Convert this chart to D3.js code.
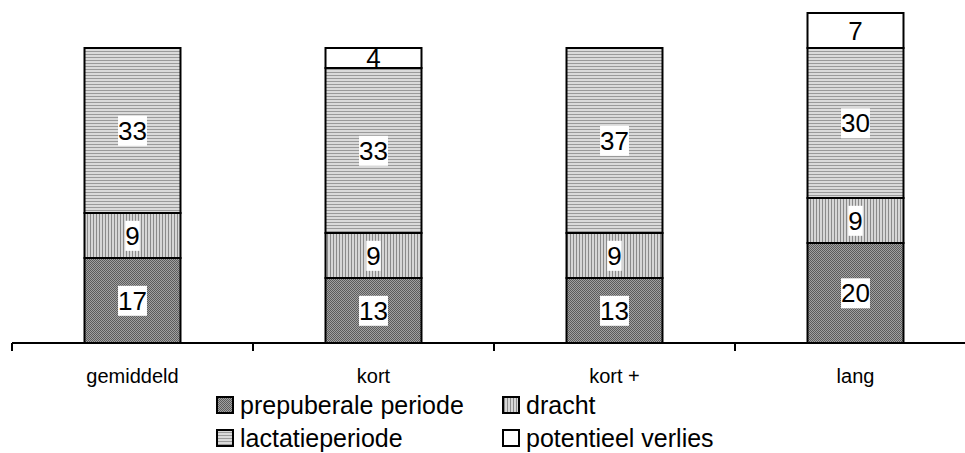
<!DOCTYPE html>
<html>
<head>
<meta charset="utf-8">
<script src="https://cdn.jsdelivr.net/npm/d3@7/dist/d3.min.js"></script>
<style>
  html, body { margin: 0; padding: 0; background: #fff; }
  svg { display: block; }
  text { font-family: "Liberation Sans", Arial, sans-serif; fill: #000; }
</style>
</head>
<body>
<svg id="chart" width="965" height="453"></svg>
<script>
// ---- data ----
const categories = ["gemiddeld", "kort", "kort +", "lang"];
const seriesNames = ["prepuberale periode", "dracht", "lactatieperiode", "potentieel verlies"];
const prepuberaal = [17, 13, 13, 20];
const drachtVals = [9, 9, 9, 9];
const lactatie = [33, 33, 37, 30];
const verlies = [0, 4, 0, 7];
const yMax = 66;

const seriesValues = [prepuberaal, drachtVals, lactatie, verlies];
const table = categories.map((c, i) => {
  const row = { cat: c };
  seriesNames.forEach((s, k) => row[s] = seriesValues[k][i]);
  return row;
});

const svg = d3.select("#chart");
const defs = svg.append("defs");

// patterns
function checker(id) {
  const p = defs.append("pattern").attr("id", id).attr("patternUnits", "userSpaceOnUse")
    .attr("width", 2).attr("height", 2);
  p.append("rect").attr("width", 2).attr("height", 2).attr("fill", "#a2a2a2");
  p.append("rect").attr("width", 1).attr("height", 1).attr("fill", "#5c5c5c");
  p.append("rect").attr("x", 1).attr("y", 1).attr("width", 1).attr("height", 1).attr("fill", "#5c5c5c");
}
function vstripes(id) {
  const p = defs.append("pattern").attr("id", id).attr("patternUnits", "userSpaceOnUse")
    .attr("width", 3).attr("height", 3);
  p.append("rect").attr("width", 3).attr("height", 3).attr("fill", "#d6d6d6");
  p.append("rect").attr("width", 1).attr("height", 3).attr("fill", "#8a8a8a");
}
function hstripes(id) {
  const p = defs.append("pattern").attr("id", id).attr("patternUnits", "userSpaceOnUse")
    .attr("width", 3).attr("height", 3);
  p.append("rect").attr("width", 3).attr("height", 3).attr("fill", "#dadada");
  p.append("rect").attr("width", 3).attr("height", 1).attr("fill", "#9a9a9a");
}
checker("pPre"); vstripes("pDra"); hstripes("pLac");
const fills = ["url(#pPre)", "url(#pDra)", "url(#pLac)", "#ffffff"];

// scales
const x0 = 12, x1 = 976;
const band = d3.scaleBand().domain(categories).range([x0, x1]).paddingInner(0.6017).paddingOuter(0.30085);
const tickBand = d3.scaleBand().domain(categories).range([x0, x1]).padding(0);
const y = d3.scaleLinear().domain([0, yMax]).range([343, 13]);

const stack = d3.stack().keys(seriesNames)(table);

const labelFs = 26;
const gBars = svg.append("g");
stack.forEach((layer, k) => {
  layer.forEach((d, i) => {
    const v = d[1] - d[0];
    if (v <= 0) return;
    gBars.append("rect")
      .attr("x", band(categories[i]))
      .attr("y", y(d[1]))
      .attr("width", band.bandwidth())
      .attr("height", y(d[0]) - y(d[1]))
      .attr("fill", fills[k])
      .attr("stroke", "#000")
      .attr("stroke-width", 2);
  });
});

// value labels
const gLab = svg.append("g");
stack.forEach((layer, k) => {
  layer.forEach((d, i) => {
    const v = d[1] - d[0];
    if (v <= 0) return;
    const cx = band(categories[i]) + band.bandwidth() / 2;
    const cy = (y(d[0]) + y(d[1])) / 2;
    const segTop = y(d[1]) + 1, segBot = y(d[0]) - 1;
    const g = gLab.append("g");
    const bg = g.append("rect").attr("fill", "#fff");
    const t = g.append("text")
      .attr("x", cx).attr("y", cy + 0.358 * labelFs)
      .attr("text-anchor", "middle")
      .style("font-size", labelFs + "px")
      .text(v);
    const bb = t.node().getBBox();
    const top = Math.max(bb.y, segTop), bot = Math.min(bb.y + bb.height, segBot);
    bg.attr("x", bb.x).attr("y", top).attr("width", bb.width).attr("height", bot - top);
  });
});

// axis
const axisY = 343;
svg.append("line").attr("x1", x0).attr("x2", 965).attr("y1", axisY).attr("y2", axisY)
  .attr("stroke", "#000").attr("stroke-width", 2);
categories.forEach(c => {
  const tx = tickBand(c);
  svg.append("line").attr("x1", tx).attr("x2", tx).attr("y1", axisY).attr("y2", axisY + 8)
    .attr("stroke", "#000").attr("stroke-width", 2);
  svg.append("text")
    .attr("x", tickBand(c) + tickBand.bandwidth() / 2)
    .attr("y", 383)
    .attr("text-anchor", "middle")
    .style("font-size", "20px")
    .text(c);
});

// legend
const legPos = [[217, 405], [503, 405], [217, 438], [503, 438]];
const legFs = 25;
seriesNames.forEach((s, k) => {
  const [lx, ly] = legPos[k];
  svg.append("rect").attr("x", lx).attr("y", ly - 8).attr("width", 16).attr("height", 16)
    .attr("fill", fills[k]).attr("stroke", "#000").attr("stroke-width", 2);
  svg.append("text").attr("x", lx + 23).attr("y", ly + 0.358 * legFs)
    .style("font-size", legFs + "px").text(s);
});
</script>
</body>
</html>
